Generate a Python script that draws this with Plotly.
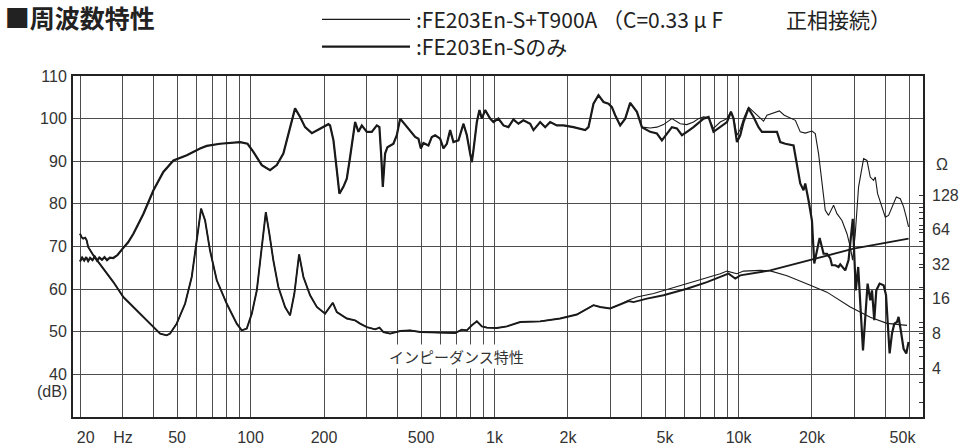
import plotly.graph_objects as go

# ---------------- axis grid / tick labels ----------------
grid_freqs = [20, 30, 40, 50, 60, 70, 80, 90, 100, 200, 300, 400, 500, 600, 700, 800, 900,
              1000, 2000, 3000, 4000, 5000, 6000, 7000, 8000, 9000, 10000, 20000, 30000, 40000, 50000]
x_tick_pos = [21.1, 30, 50, 100, 200, 500, 1000, 2000, 5000, 10000, 20000, 47000]
x_tick_labels = ["20", "Hz", "50", "100", "200", "500", "1k", "2k", "5k", "10k", "20k", "50k"]
db_ticks = [40, 50, 60, 70, 80, 90, 100, 110]
ohm_ticks = [4, 8, 16, 32, 64, 128]
ohm_minor = [2, 3, 4, 5, 6, 7, 8, 9, 10, 20, 30, 40, 50, 60, 70, 80, 90, 100]

# legend entries (thin = with tweeter, thick = woofer alone)
legend_labels = [":FE203En-S+T900A （C=0.33 μ F　　　正相接続）", ":FE203En-Sのみ"]
legend_widths = [1.1, 2.2]

# ---------------- SPL (dB) : common part (both curves identical) ----------------
spl_common_f = [20, 20.4, 20.8, 21.2, 21.6, 22.0, 22.5, 23.0, 23.5, 24.0, 24.6, 25.2, 25.8, 26.5,
                27.4, 28.5, 29.9, 31.5, 33.1, 34.7, 36.4, 38.2, 40.0, 43.9, 48.3, 54.8, 62.1, 66.1,
                75, 90.6, 97.2, 102.7, 111.2, 120.2, 128.1, 136.3, 145.2, 152.2, 159.6, 167.3, 178.3,
                192.8, 208.5, 211.8, 218.7, 225.7, 231.3, 240.2, 248, 255.9, 264, 268.3, 276.8, 285.8,
                299.6, 314, 329.2, 337.4, 342.8, 348.4, 356, 363.9, 385.1, 397.6, 410.4, 437.1, 458.2,
                472.8, 487.7, 498.9, 511.2, 535.9, 553.4, 570.9, 598.4, 617.4, 637.5, 657.7, 678.6,
                711.4, 745.8, 770.1, 794.3, 807.2, 819.6, 846.3, 867.4, 887.2, 915.3, 959.4, 989.7,
                1037, 1088, 1140, 1195, 1253, 1313, 1400, 1444, 1538, 1613, 1690, 1801, 1917, 2106,
                2208, 2353, 2427, 2544, 2667, 2797, 2931, 3027, 3123, 3273, 3432, 3597, 3833]
spl_common_db = [66.5, 67.4, 66.7, 67.5, 66.6, 67.3, 66.8, 67.6, 66.7, 67.4, 66.9, 67.5, 66.8, 67.4,
                 67.3, 68.0, 69.5, 71.0, 73.0, 75.3, 77.7, 80.5, 83.2, 87.5, 90.2, 91.4, 93.0, 93.6,
                 94.1, 94.5, 94.1, 92.2, 89.1, 87.9, 89.1, 91.8, 98.0, 102.4, 100.4, 98.0, 96.6,
                 97.7, 98.7, 98.4, 94.9, 87.9, 82.4, 84.0, 85.9, 91.0, 95.7, 99.2, 96.9, 98.4,
                 96.9, 96.9, 98.4, 98.0, 91.8, 84.0, 91.8, 93.3, 94.1, 96.1, 100.0, 98.0, 96.5,
                 95.7, 95.3, 93.0, 94.3, 93.7, 95.7, 96.1, 95.3, 93.0, 94.1, 97.3, 94.5,
                 94.9, 98.8, 96.1, 91.8, 89.8, 92.6, 99.2, 102.0, 100.0, 102.0, 100.0, 99.2,
                 100.0, 98.4, 98.0, 99.8, 98.8, 99.6, 98.8, 97.3, 99.2, 98.0, 99.2, 98.4, 98.4, 98.0,
                 97.7, 97.3, 98.0, 103.5, 105.5, 103.9, 103.5, 102.7, 100.8, 98.4, 100.0, 103.7, 101.6]

# FE203En-S only (thick) : high-frequency tail
spl_solo_tail_f = [4018, 4345, 4630, 4853, 5088, 5333, 5591, 5861, 6144, 6539, 7187, 7535, 7898, 8414,
                   8968, 9311, 9540, 9851, 10163, 10486, 10990, 11525, 12078, 12474, 13079, 14373,
                   14828, 15544, 16810, 17360, 17906, 18471, 18771, 19366, 19999, 20440, 21500,
                   22315, 23040, 23770, 24155, 24920, 25706, 26121, 27385, 28250, 28900, 29390,
                   30240, 30940, 32370, 32764, 33180, 33810, 34671, 35240, 36010, 36700, 37870,
                   39330, 40230, 41620, 42560, 43500, 44620, 45290, 46340, 47490, 48710, 49770]
spl_solo_tail_db = [98.0, 96.9, 96.5, 94.9, 96.5, 98.0, 97.7, 96.1, 96.9, 98.0, 100.0, 100.4, 96.9, 98.0,
                    99.2, 101.6, 100.0, 94.5, 96.1, 99.2, 102.4, 100.4, 98.0, 96.9, 96.9, 96.9,
                    94.5, 94.1, 93.7, 88.7, 84.8, 83.2, 84.8, 80.8, 76.1, 66.0, 72.0,
                    68.3, 68.3, 67.2, 65.6, 65.6, 65.2, 65.8, 64.4, 66.8, 72.0, 76.5,
                    59.7, 65.2, 45.6, 50.0, 55.8, 61.3, 57.4, 59.7, 52.7, 59.7, 61.3,
                    60.9, 58.6, 44.9, 49.6, 51.9, 52.3, 53.5, 50.0, 46.0, 44.9, 47.6]

# FE203En-S + T900A (thin) : high-frequency tail
spl_combo_tail_f = [4018, 4345, 4630, 4924, 5333, 5770, 6144, 6539, 6858, 7187, 7535, 7898, 8414, 8968,
                    9311, 9540, 9851, 10163, 10486, 10990, 11900, 12667, 13079, 14700, 15400, 16590,
                    17100, 17906, 18771, 20000, 20630, 21283, 22000, 22672, 23390, 24520, 25320,
                    26546, 27830, 28708, 29350, 30097, 31050, 32560, 33620, 34671, 35767, 36350,
                    37154, 38730, 39960, 41210, 42560, 44330, 46030, 47490, 48710, 49770]
spl_combo_tail_db = [98.0, 97.8, 98.0, 98.6, 100.0, 98.8, 98.6, 99.2, 100.0, 100.4, 100.2, 97.7, 99.2, 100.0,
                     101.7, 100.2, 96.1, 97.5, 100.0, 102.7, 100.8, 99.4, 100.8, 101.8, 100.8, 100.0,
                     99.6, 96.9, 96.6, 97.1, 96.5, 91.8, 85.5, 78.5, 77.3, 79.7, 77.7,
                     76.1, 73.0, 69.9, 66.8, 73.0, 84.0, 90.6, 90.2, 86.3, 85.5, 86.3,
                     82.4, 79.3, 76.9, 77.3, 79.3, 81.6, 81.2, 79.3, 76.9, 74.6]

# ---------------- Impedance (ohm) ----------------
imp_common_f = [20, 20.3, 20.6, 21.0, 21.3, 21.6, 22.7, 24.9, 27.4, 30.1, 33.1, 36.4, 40.0, 42.6, 45.3,
                46.8, 49.8, 53.9, 57.4, 60.2, 62.7, 65.1, 68.2, 72.7, 79.9, 87.8, 92.0, 96.5, 101.2,
                106.1, 111.2, 115.5, 119.4, 124.0, 130.0, 138.5, 145.2, 151.2, 158.1, 164.7, 175.4,
                186.9, 202.1, 208.5, 217.4, 225.7, 248.1, 268.3, 281.3, 299.6, 324.1, 337.5, 350.5,
                373.4, 410.4, 450.8, 495.5, 598.4, 689.5, 734.5, 770.1, 807.2, 846.3, 887.2, 930.3,
                1022, 1124, 1274, 1538, 1858, 2175, 2544, 2710, 2978, 3273]
imp_common_ohm = [59.0, 55.0, 53.4, 54.5, 51.6, 45.2, 38.2, 29.3, 22.4, 16.6, 13.6, 11.1, 9.1, 7.98, 7.71,
                  7.98, 9.74, 14.5, 24.8, 51.6, 97.4, 77.1, 42.3, 23.2, 14.5, 9.74, 8.52, 8.82, 11.9,
                  19.0, 42.3, 91.0, 59.0, 34.6, 20.3, 13.6, 11.5, 17.8, 39.0, 24.8, 17.2,
                  13.6, 11.9, 13.2, 14.8, 12.3, 10.8, 10.4, 9.74, 9.1, 8.69, 9.0, 8.24,
                  7.98, 8.40, 8.52, 8.24, 8.14, 8.07, 8.64, 8.52, 9.42, 10.2, 9.23, 9.0,
                  8.92, 9.23, 10.06, 10.2, 10.8, 11.7, 14.1, 13.6, 13.2, 14.3]

imp_solo_tail_f = [3540, 3712, 4214, 4928, 6144, 7422, 8414, 9100, 9700, 10163, 13490, 17360, 21630,
                   29615, 49770]
imp_solo_tail_ohm = [15.3, 15.0, 16.1, 17.2, 19.6, 22.4, 24.8, 26.5, 24.0, 25.6, 28.3, 32.4, 37.0,
                     43.7, 53.4]

imp_combo_tail_f = [3540, 3833, 4486, 5248, 6144, 7187, 8414, 8968, 9851, 10486, 12274, 13490, 15800,
                    19690, 23040, 28708, 34671, 40602, 49035]
imp_combo_tail_ohm = [15.6, 16.6, 17.8, 19.6, 21.7, 24.0, 26.5, 27.9, 26.5, 27.9, 28.3, 28.0, 25.4,
                      21.0, 18.3, 13.6, 11.05, 9.8, 9.42]

# ---------------- build figure ----------------
INK = "#1a1a1a"
TICKFONT = dict(family="Liberation Sans, Arial, sans-serif", size=16, color="#333333")
JP = "Noto Sans CJK JP, sans-serif"
LEG_SIZE = 21

W, H = 966, 448
M = dict(l=73, r=43, t=76, b=31)
PW, PH = W - M["l"] - M["r"], H - M["t"] - M["b"]


def px_x(px):  # pixel -> paper x
    return (px - M["l"]) / PW


def px_y(py):  # pixel -> paper y
    return (H - M["b"] - py) / PH


fig = go.Figure()
fig.add_trace(go.Scatter(
    x=spl_common_f + spl_combo_tail_f, y=spl_common_db + spl_combo_tail_db,
    mode="lines", line=dict(color=INK, width=legend_widths[0]), name=legend_labels[0]))
fig.add_trace(go.Scatter(
    x=spl_common_f + spl_solo_tail_f, y=spl_common_db + spl_solo_tail_db,
    mode="lines", line=dict(color=INK, width=legend_widths[1]), name=legend_labels[1]))
fig.add_trace(go.Scatter(
    x=imp_common_f + imp_combo_tail_f, y=imp_common_ohm + imp_combo_tail_ohm,
    mode="lines", line=dict(color=INK, width=1.1), yaxis="y2"))
fig.add_trace(go.Scatter(
    x=imp_common_f + imp_solo_tail_f, y=imp_common_ohm + imp_solo_tail_ohm,
    mode="lines", line=dict(color=INK, width=1.9), yaxis="y2"))

# hand-built legend (keeps plot area fixed); both rows in one text block (line pitch 1.3 em)
row_pitch = 1.3 * LEG_SIZE
row_center = 33
shapes = []
for i, w in enumerate(legend_widths):
    yy = row_center + (i - 0.5) * row_pitch
    shapes.append(dict(type="line", xref="paper", yref="paper", x0=px_x(322), x1=px_x(410),
                       y0=px_y(yy), y1=px_y(yy), line=dict(color=INK, width=w)))

annotations = [
    dict(text="<br>".join(legend_labels), xref="paper", yref="paper", x=px_x(414),
         y=px_y(row_center), xanchor="left", yanchor="middle", align="left", showarrow=False,
         font=dict(family=JP, size=LEG_SIZE, color="#222222")),
    dict(text="インピーダンス特性", x=2.846, y=44.2, xref="x", yref="y", showarrow=False,
         font=dict(family=JP, size=15, color="#333333"), bgcolor="white"),
    dict(text="(dB)", x=0, xref="paper", xanchor="right", xshift=-4, y=36, yref="y",
         showarrow=False, font=TICKFONT),
    dict(text="Ω", x=1, xref="paper", xanchor="left", xshift=11, y=89.2, yref="y",
         showarrow=False, font=TICKFONT),
]

ohm_all = sorted(set(ohm_minor + ohm_ticks))
ohm_text = [str(v) if v in ohm_ticks else "" for v in ohm_all]

fig.update_layout(
    width=W, height=H,
    margin=M,
    paper_bgcolor="white", plot_bgcolor="white",
    title=dict(text="<b>■周波数特性</b>", x=0.005, xanchor="left", y=1 - 19 / H, yanchor="middle",
               font=dict(family=JP, size=25, color="#222222")),
    showlegend=False,
    xaxis=dict(type="log", range=[1.2723, 4.7561], tickmode="array", automargin=False,
               tickvals=x_tick_pos, ticktext=x_tick_labels, showgrid=False, ticks="",
               tickfont=TICKFONT, showline=True, mirror=True, linecolor="#222222", linewidth=2,
               zeroline=False, ticklabelstandoff=5,
               minor=dict(tickmode="array", tickvals=grid_freqs, showgrid=True,
                          gridcolor="#4d4d4d", gridwidth=1, ticks="")),
    yaxis=dict(range=[30, 110], tickmode="array", tickvals=db_ticks, showgrid=True, automargin=False,
               gridcolor="#4d4d4d", gridwidth=1, ticks="", tickfont=TICKFONT, showline=True,
               mirror=True, linecolor="#222222", linewidth=2, zeroline=False, ticklabelstandoff=1),
    yaxis2=dict(type="log", overlaying="y", side="right", range=[0.177, 3.142], tickmode="array",
                automargin=False, tickvals=ohm_all, ticktext=ohm_text, showgrid=False,
                ticks="inside", ticklen=4, tickcolor="#333333", tickwidth=1,
                tickfont=TICKFONT, showline=False, zeroline=False, ticklabelstandoff=8),
    shapes=shapes,
    annotations=annotations,
)

fig.write_html("out.html", config={"displayModeBar": False},
               post_script="document.body.style.margin='0';")
